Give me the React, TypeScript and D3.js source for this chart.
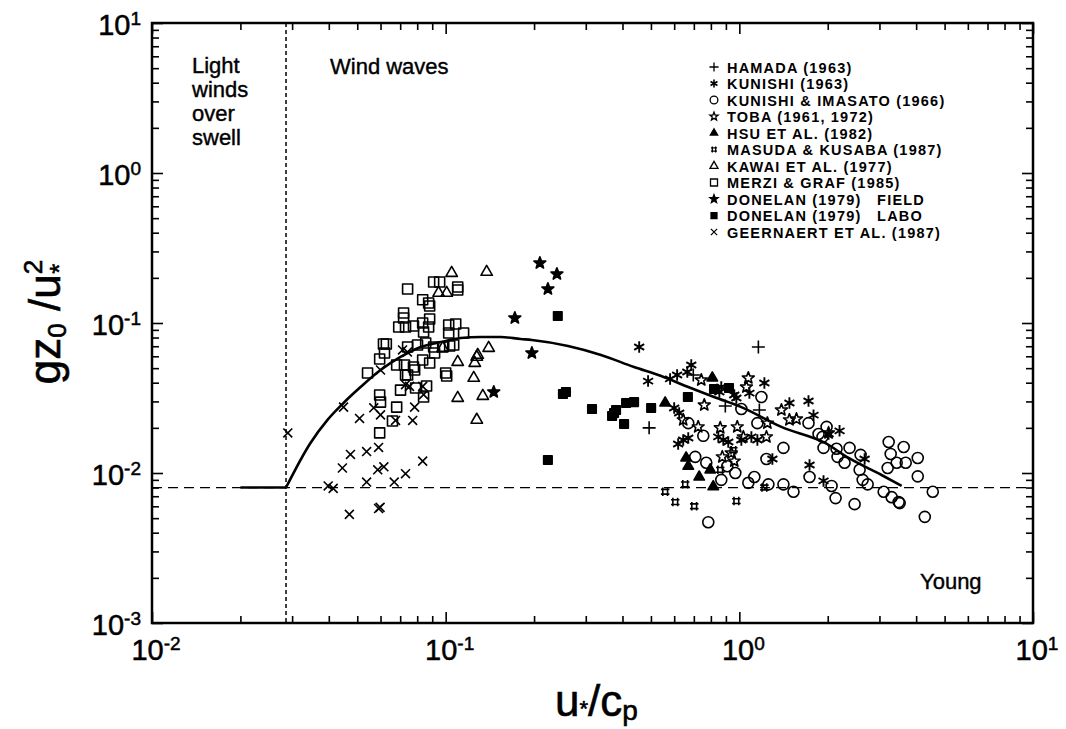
import * as d3 from 'd3'
import { useEffect, useRef } from 'react'

type Pt = [number, number]

// axis decades (exponents)
const xDecades = [-2, -1, 0, 1]
const yDecades = [-3, -2, -1, 0, 1]

// data: [u*/cp, gz0/u*^2]
const hamada: Pt[] = [
  [0.493, 0.02], [0.697, 0.045], [0.896, 0.028], [1.161, 0.0692], [1.17, 0.0263],
]

const kunishi: Pt[] = [
  [0.456, 0.0692], [0.489, 0.041], [0.581, 0.0424], [0.614, 0.045], [0.686, 0.0525],
  [0.665, 0.0471], [0.868, 0.0374], [0.961, 0.0331], [1.082, 0.0341], [1.217, 0.0398],
  [1.481, 0.0293], [1.72, 0.0302], [1.789, 0.0243], [2.013, 0.0182], [2.194, 0.0191],
  [0.6, 0.0271], [0.624, 0.0251], [0.644, 0.0166], [0.619, 0.0156], [0.67, 0.0171],
  [0.848, 0.0174], [0.882, 0.0166], [0.917, 0.0161], [1.016, 0.0166], [1.099, 0.0174],
  [1.152, 0.0166], [1.296, 0.0124], [1.734, 0.0113], [1.935, 0.00886], [2.671, 0.0124],
  [0.855, 0.0347], [0.977, 0.0316],
]

const kunishiImasato: Pt[] = [
  [0.67, 0.0215], [0.7538, 0.0177], [0.7076, 0.0128], [0.7717, 0.0117], [0.868, 0.009],
  [0.9101, 0.0111], [0.969, 0.01], [1.016, 0.0267], [1.189, 0.0321], [1.152, 0.0215],
  [1.413, 0.0147], [1.237, 0.0124], [1.073, 0.0086], [1.125, 0.0094], [1.256, 0.0084],
  [1.413, 0.0084], [1.529, 0.0075], [1.72, 0.0215], [1.734, 0.0094], [0.7839, 0.0047],
  [1.861, 0.0182], [1.982, 0.0203], [1.92, 0.0174], [1.935, 0.0147], [2.143, 0.0145],
  [2.16, 0.0128], [2.282, 0.0117], [2.373, 0.0147], [2.588, 0.0132], [2.568, 0.0105],
  [2.63, 0.009], [2.735, 0.0084], [2.127, 0.0068], [2.061, 0.0082], [2.469, 0.0062],
  [3.101, 0.0075], [3.302, 0.0069], [3.488, 0.0064], [3.516, 0.0063], [3.225, 0.0161],
  [3.628, 0.0149], [3.276, 0.0134], [3.2, 0.0108], [3.434, 0.0117], [3.686, 0.0117],
  [4.051, 0.0126], [4.051, 0.0095], [4.557, 0.0075], [4.281, 0.0051],
]

const toba: Pt[] = [
  [0.742, 0.0417], [0.7596, 0.0284], [0.644, 0.0226], [0.7244, 0.0203], [0.861, 0.02],
  [0.984, 0.0203], [1.032, 0.0174], [1.073, 0.043], [1.057, 0.0374], [0.875, 0.0128],
  [0.961, 0.012], [0.939, 0.0136], [1.237, 0.0174], [1.481, 0.0226], [1.565, 0.0229],
  [1.391, 0.0263], [2.013, 0.0185], [1.246, 0.0215],
]

const hsu: Pt[] = [
  [0.809, 0.043], [0.559, 0.0293], [0.659, 0.0126], [0.67, 0.0111], [0.73, 0.0094],
  [0.815, 0.0081], [0.796, 0.0105],
]

const masuda: Pt[] = [
  [0.559, 0.0075], [0.605, 0.0064], [0.654, 0.0084], [0.702, 0.006], [0.977, 0.0065],
  [0.954, 0.0142], [1.217, 0.008], [0.861, 0.0105],
]

const kawai: Pt[] = [
  [0.1048, 0.2154], [0.1379, 0.2188], [0.0946, 0.1585], [0.1008, 0.1585], [0.1401, 0.0681],
  [0.1286, 0.0612], [0.1276, 0.0594], [0.1099, 0.0549], [0.1256, 0.0541], [0.1246, 0.043],
  [0.1099, 0.0316], [0.1338, 0.0326], [0.1276, 0.0226], [0.0977, 0.0681],
]

const merzi: Pt[] = [
  [0.0742, 0.1685], [0.091, 0.1876], [0.0954, 0.1876], [0.1099, 0.1738], [0.1099, 0.166],
  [0.0835, 0.1428], [0.0875, 0.1359], [0.0882, 0.1298], [0.0719, 0.1166], [0.0719, 0.108],
  [0.0692, 0.094], [0.073, 0.094], [0.0777, 0.0955], [0.0835, 0.1], [0.0882, 0.1063],
  [0.0841, 0.0871], [0.0875, 0.094], [0.1024, 0.097], [0.1082, 0.0985], [0.1024, 0.0858],
  [0.1151, 0.0858], [0.0614, 0.0724], [0.0628, 0.0724], [0.0619, 0.0631], [0.0596, 0.0575],
  [0.0742, 0.0692], [0.0802, 0.0713], [0.0855, 0.0736], [0.091, 0.0692], [0.0917, 0.0631],
  [0.0977, 0.0692], [0.1032, 0.0702], [0.1065, 0.0713], [0.0681, 0.0525], [0.0724, 0.0525],
  [0.0777, 0.0509], [0.0784, 0.0486], [0.0835, 0.0567], [0.0882, 0.0541], [0.0542, 0.0464],
  [0.073, 0.045], [0.0742, 0.045], [0.1, 0.0464], [0.1008, 0.0443], [0.0702, 0.0357],
  [0.079, 0.0369], [0.0861, 0.038], [0.0841, 0.0321], [0.0596, 0.0331], [0.06, 0.0297],
  [0.0681, 0.0275], [0.0659, 0.0222], [0.0596, 0.0185],
]

const donelanField: Pt[] = [
  [0.2093, 0.2512], [0.2392, 0.2122], [0.2229, 0.1685], [0.172, 0.108], [0.1966, 0.0631],
  [0.1458, 0.0347],
]

const donelanLabo: Pt[] = [
  [0.2409, 0.1113], [0.2508, 0.0336], [0.2568, 0.0347], [0.315, 0.0267], [0.3687, 0.024],
  [0.3745, 0.0251], [0.3804, 0.0263], [0.4115, 0.0293], [0.4381, 0.0297], [0.5008, 0.0271],
  [0.4051, 0.0212], [0.2229, 0.0122], [0.668, 0.0321], [0.82, 0.0363], [0.922, 0.0369],
]

const geernaert: Pt[] = [
  [0.029, 0.0185], [0.0449, 0.0275], [0.0569, 0.0272], [0.06, 0.0244], [0.0509, 0.0231],
  [0.0784, 0.0275], [0.0675, 0.0224], [0.0772, 0.0224], [0.0591, 0.0148], [0.0538, 0.0139],
  [0.0474, 0.0133], [0.0835, 0.012], [0.0445, 0.0108], [0.0587, 0.0105], [0.0616, 0.011],
  [0.073, 0.0099], [0.0538, 0.0087], [0.0668, 0.0087], [0.0398, 0.0082], [0.0414, 0.0079],
  [0.047, 0.0053], [0.0591, 0.0058], [0.0598, 0.0059], [0.0713, 0.0661], [0.0741, 0.064],
  [0.06, 0.0486], [0.073, 0.0388], [0.0753, 0.0378], [0.0835, 0.0378], [0.0841, 0.0333],
]

// solid model curve, starting at the swell limit
const curve: Pt[] = [
  [0.0286, 0.008], [0.0346, 0.0158], [0.0396, 0.0226], [0.0449, 0.0293], [0.0513, 0.0374],
  [0.06, 0.0486], [0.0702, 0.0594], [0.0822, 0.0692], [0.0962, 0.0746], [0.1125, 0.0794],
  [0.1316, 0.0807], [0.154, 0.0807], [0.18, 0.0782], [0.1966, 0.077], [0.261, 0.0702],
  [0.338, 0.0612], [0.438, 0.0509], [0.542, 0.0443], [0.67, 0.0374], [0.82, 0.0321],
  [1.016, 0.0275], [1.39, 0.0203], [1.966, 0.0158], [2.355, 0.0126], [3.05, 0.0097],
  [3.57, 0.0082],
]
const flatLine: Pt[] = [[0.02, 0.008], [0.0286, 0.008]]
const charnockLevel = 0.008
const swellLimit = 0.0286

type Kind =
  | 'plus' | 'asterisk' | 'circle' | 'openStar' | 'triangle' | 'hash'
  | 'openTriangle' | 'openSquare' | 'star' | 'square' | 'times'

const series: { name: string; data: Pt[]; kind: Kind }[] = [
  { name: 'HAMADA (1963)', data: hamada, kind: 'plus' },
  { name: 'KUNISHI (1963)', data: kunishi, kind: 'asterisk' },
  { name: 'KUNISHI & IMASATO (1966)', data: kunishiImasato, kind: 'circle' },
  { name: 'TOBA (1961, 1972)', data: toba, kind: 'openStar' },
  { name: 'HSU ET AL. (1982)', data: hsu, kind: 'triangle' },
  { name: 'MASUDA & KUSABA (1987)', data: masuda, kind: 'hash' },
  { name: 'KAWAI ET AL. (1977)', data: kawai, kind: 'openTriangle' },
  { name: 'MERZI & GRAF (1985)', data: merzi, kind: 'openSquare' },
  { name: 'DONELAN (1979)   FIELD', data: donelanField, kind: 'star' },
  { name: 'DONELAN (1979)   LABO', data: donelanLabo, kind: 'square' },
  { name: 'GEERNAERT ET AL. (1987)', data: geernaert, kind: 'times' },
]

const markerSize: Record<Kind, number> = {
  plus: 13, asterisk: 11.5, circle: 11, openStar: 12.5, triangle: 10.5, hash: 8.5,
  openTriangle: 11.5, openSquare: 10, star: 12.5, square: 8.5, times: 10.5,
}
const filledKinds: Kind[] = ['triangle', 'star', 'square']

function starPath(r: number) {
  const pts: string[] = []
  for (let i = 0; i < 10; i++) {
    const a = -Math.PI / 2 + (i * Math.PI) / 5
    const rr = i % 2 === 0 ? r : r * 0.42
    pts.push(`${(rr * Math.cos(a)).toFixed(2)},${(rr * Math.sin(a)).toFixed(2)}`)
  }
  return `M${pts.join('L')}Z`
}

function markerPath(kind: Kind, s: number) {
  const h = s / 2
  switch (kind) {
    case 'plus':
      return `M${-h},0H${h}M0,${-h}V${h}`
    case 'times': {
      const k = h * 0.85
      return `M${-k},${-k}L${k},${k}M${-k},${k}L${k},${-k}`
    }
    case 'asterisk':
      return [90, 30, -30]
        .map(deg => {
          const dx = h * Math.cos((deg * Math.PI) / 180)
          const dy = h * Math.sin((deg * Math.PI) / 180)
          return `M${-dx},${-dy}L${dx},${dy}`
        })
        .join('')
    case 'circle':
      return `M${h},0A${h},${h} 0 1,1 ${-h},0A${h},${h} 0 1,1 ${h},0Z`
    case 'openStar':
    case 'star':
      return starPath(h)
    case 'triangle':
    case 'openTriangle': {
      const t = s * 0.866
      return `M0,${(-t * 2) / 3}L${h},${t / 3}L${-h},${t / 3}Z`
    }
    case 'openSquare':
    case 'square':
      return `M${-h},${-h}H${h}V${h}H${-h}Z`
    case 'hash': {
      const a = s * 0.28
      return `M${-h},${-a}H${h}M${-h},${a}H${h}M${-a},${-h}V${h}M${a},${-h}V${h}`
    }
  }
}

const isDecade = (v: number) => Math.abs(Math.log10(v) - Math.round(Math.log10(v))) < 1e-6

export default function App() {
  const svgRef = useRef<SVGSVGElement>(null)

  useEffect(() => {
    if (!svgRef.current) return
    const svg = d3.select(svgRef.current)
    svg.selectAll('*').remove()

    const left = 152
    const right = 1033
    const top = 23
    const bottom = 623
    const font = "'Liberation Sans', Arial, Helvetica, sans-serif"

    const x = d3.scaleLog().domain([0.01, 10]).range([left, right])
    const y = d3.scaleLog().domain([0.001, 10]).range([bottom, top])

    const xMajor = x.ticks().filter(isDecade)
    const xMinor = x.ticks().filter(v => !isDecade(v))
    const yMajor = y.ticks().filter(isDecade)
    const yMinor = y.ticks().filter(v => !isDecade(v))

    // ticks on all four sides, pointing inward
    const tickGroup = (g: any, width: number) => {
      g.select('.domain').remove()
      g.selectAll('line').attr('stroke', '#000').attr('stroke-width', width)
      g.selectAll('text').remove()
    }
    const addAxis = (axis: any, transform: string) =>
      svg.append('g').attr('transform', transform).call(axis).call((g: any) => tickGroup(g, 1.6))

    addAxis(d3.axisBottom(x).tickValues(xMajor).tickSize(-11), `translate(0,${bottom})`)
    addAxis(d3.axisBottom(x).tickValues(xMinor).tickSize(-7), `translate(0,${bottom})`)
    addAxis(d3.axisTop(x).tickValues(xMajor).tickSize(-11), `translate(0,${top})`)
    addAxis(d3.axisTop(x).tickValues(xMinor).tickSize(-7), `translate(0,${top})`)
    addAxis(d3.axisLeft(y).tickValues(yMajor).tickSize(-11), `translate(${left},0)`)
    addAxis(d3.axisLeft(y).tickValues(yMinor).tickSize(-7), `translate(${left},0)`)
    addAxis(d3.axisRight(y).tickValues(yMajor).tickSize(-11), `translate(${right},0)`)
    addAxis(d3.axisRight(y).tickValues(yMinor).tickSize(-7), `translate(${right},0)`)

    // frame
    svg
      .append('rect')
      .attr('x', left)
      .attr('y', top)
      .attr('width', right - left)
      .attr('height', bottom - top)
      .attr('fill', 'none')
      .attr('stroke', '#000')
      .attr('stroke-width', 2.5)

    // tick labels with superscript exponents
    const tickLabel = (tx: number, ty: number, anchor: string, e: number) => {
      const t = svg
        .append('text')
        .attr('x', tx)
        .attr('y', ty)
        .attr('text-anchor', anchor)
        .attr('font-family', font)
        .attr('fill', '#000')
        .attr('stroke', '#000')
        .attr('stroke-width', 0.5)
      t.append('tspan').attr('font-size', 29).text('10')
      t.append('tspan').attr('font-size', 19).attr('dy', -10).text(String(e))
    }
    xDecades.forEach(e => tickLabel(x(Math.pow(10, e)) + 4, 660, 'middle', e))
    yDecades.forEach(e => tickLabel(141, y(Math.pow(10, e)) + 12, 'end', e))

    // axis titles
    const xt = svg
      .append('text')
      .attr('x', 555)
      .attr('y', 716)
      .attr('font-family', font)
      .attr('font-size', 44)
      .attr('fill', '#000')
      .attr('stroke', '#000')
      .attr('stroke-width', 0.6)
    xt.append('tspan').text('u')
    xt.append('tspan').attr('font-size', 22).text('*')
    xt.append('tspan').text('/c')
    xt.append('tspan').attr('font-size', 28).attr('dy', 4).text('p')

    const yt = svg
      .append('text')
      .attr('transform', 'translate(60,322) rotate(-90)')
      .attr('text-anchor', 'middle')
      .attr('font-family', font)
      .attr('font-size', 44)
      .attr('fill', '#000')
      .attr('stroke', '#000')
      .attr('stroke-width', 0.6)
    yt.append('tspan').text('gz')
    yt.append('tspan').attr('font-size', 26).attr('dy', 6).text('0')
    yt.append('tspan').attr('dy', -6).text(' /u')
    yt.append('tspan').attr('font-size', 26).attr('dy', -18).text('2')
    yt.append('tspan').attr('font-size', 26).attr('dx', -14).attr('dy', 26).text('*')

    // reference lines
    svg
      .append('line')
      .attr('x1', x(swellLimit))
      .attr('x2', x(swellLimit))
      .attr('y1', top)
      .attr('y2', bottom)
      .attr('stroke', '#000')
      .attr('stroke-width', 1.5)
      .attr('stroke-dasharray', '4,3')

    svg
      .append('line')
      .attr('x1', left)
      .attr('x2', right)
      .attr('y1', y(charnockLevel))
      .attr('y2', y(charnockLevel))
      .attr('stroke', '#000')
      .attr('stroke-width', 1.3)
      .attr('stroke-dasharray', '10,6')

    const line = d3
      .line<Pt>()
      .x(d => x(d[0]))
      .y(d => y(d[1]))

    svg
      .append('path')
      .datum(flatLine)
      .attr('fill', 'none')
      .attr('stroke', '#000')
      .attr('stroke-width', 2.5)
      .attr('d', line)

    svg
      .append('path')
      .datum(curve)
      .attr('fill', 'none')
      .attr('stroke', '#000')
      .attr('stroke-width', 2.6)
      .attr('d', line.curve(d3.curveMonotoneX))

    // data points
    series.forEach(s => {
      const filled = filledKinds.includes(s.kind)
      svg
        .append('g')
        .selectAll('path')
        .data(s.data)
        .enter()
        .append('path')
        .attr('transform', d => `translate(${x(d[0])},${y(d[1])})`)
        .attr('d', markerPath(s.kind, markerSize[s.kind]))
        .attr('fill', filled ? '#000' : 'none')
        .attr('stroke', '#000')
        .attr('stroke-width', s.kind === 'asterisk' ? 1.9 : 1.6)
        .attr('stroke-linejoin', 'round')
    })

    // region annotations
    const note = (txt: string, tx: number, ty: number) =>
      svg
        .append('text')
        .attr('x', tx)
        .attr('y', ty)
        .attr('font-family', font)
        .attr('font-size', 22)
        .attr('fill', '#000')
        .attr('stroke', '#000')
        .attr('stroke-width', 0.4)
        .text(txt)
    ;['Light', 'winds', 'over', 'swell'].forEach((w, i) => note(w, 192, 73 + i * 24))
    note('Wind waves', 330, 74)
    note('Young', 920, 589)

    // legend
    const legend = svg.append('g').attr('transform', 'translate(714,67)')
    series.forEach((s, i) => {
      const row = legend.append('g').attr('transform', `translate(0,${i * 16.5})`)
      const filled = filledKinds.includes(s.kind)
      row
        .append('path')
        .attr('d', markerPath(s.kind, markerSize[s.kind] * 0.7))
        .attr('fill', filled ? '#000' : 'none')
        .attr('stroke', '#000')
        .attr('stroke-width', s.kind === 'asterisk' ? 1.6 : 1.3)
      row
        .append('text')
        .attr('x', 13)
        .attr('y', 5.5)
        .attr('font-family', font)
        .attr('font-size', 14.5)
        .attr('font-weight', 'bold')
        .attr('letter-spacing', 1.2)
        .attr('fill', '#000')
        .style('white-space', 'pre')
        .text(s.name)
    })
  }, [])

  return (
    <svg
      ref={svgRef}
      width={1066}
      height={729}
      style={{ position: 'absolute', left: 0, top: 0, background: '#fff' }}
    />
  )
}
